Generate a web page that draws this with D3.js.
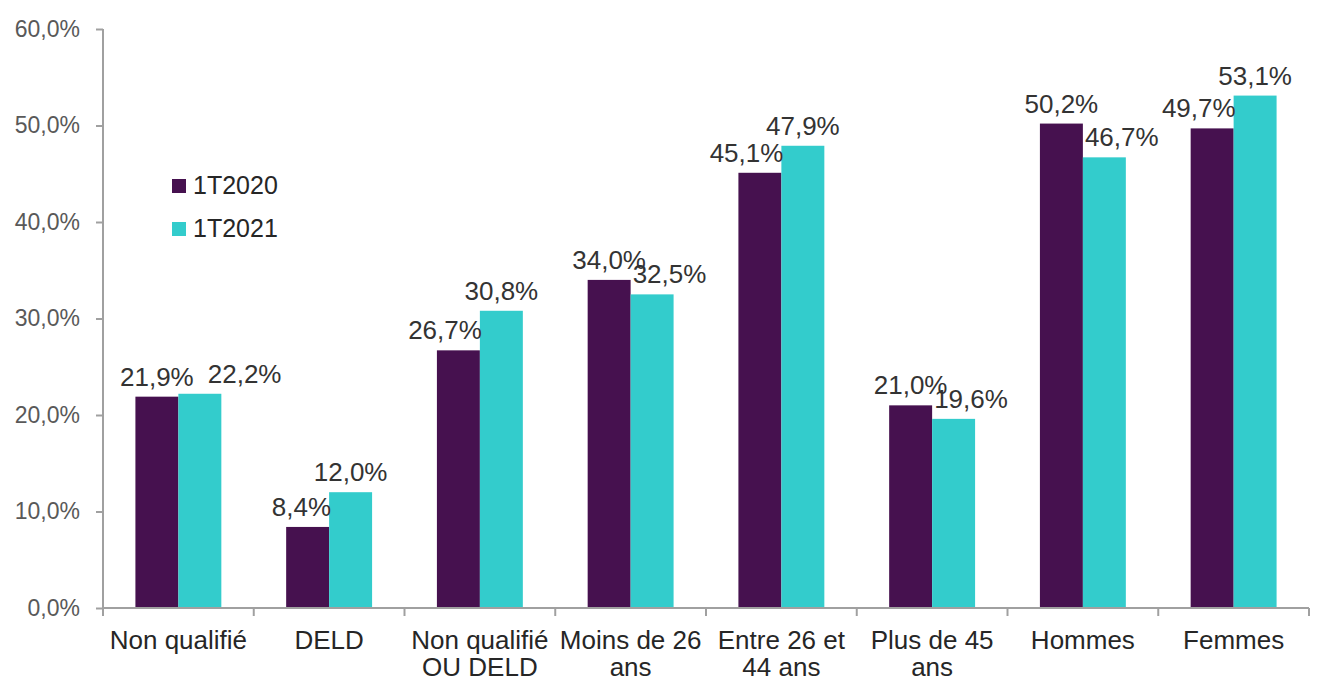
<!DOCTYPE html>
<html>
<head>
<meta charset="utf-8">
<title>1T2020 vs 1T2021</title>
<script src="https://cdnjs.cloudflare.com/ajax/libs/d3/7.8.5/d3.min.js"></script>
<style>
  body { margin: 0; background: #fff; }
  text { font-family: "Liberation Sans", Arial, sans-serif; }
  .axis path, .axis line { stroke: #a0a0a0; stroke-width: 2px; }
  .axis.y text { fill: #595959; font-size: 23px; }
  .cat { fill: #262626; font-size: 26px; }
  .lbl { fill: #333; font-size: 26px; }
  .legend text { fill: #262626; font-size: 25px; }
</style>
</head>
<body>
<svg id="chart" width="1321" height="682"></svg>
<script>
var categories = ['Non qualifié', 'DELD', 'Non qualifié OU DELD', 'Moins de 26 ans',
                  'Entre 26 et 44 ans', 'Plus de 45 ans', 'Hommes', 'Femmes'];
var seriesNames = ['1T2020', '1T2021'];
var values2020 = [21.9, 8.4, 26.7, 34.0, 45.1, 21.0, 50.2, 49.7];
var values2021 = [22.2, 12.0, 30.8, 32.5, 47.9, 19.6, 46.7, 53.1];
var yTicks = [0, 10, 20, 30, 40, 50, 60];
var colors = ['#46114f', '#33cccc'];

var svg = d3.select('#chart');
var plot = {left: 103, right: 1309, top: 29, bottom: 608};

var fr = d3.formatLocale({decimal: ',', thousands: ' ', grouping: [3], currency: ['', '€']});
var pct = function(v){ return fr.format('.1f')(v) + '%'; };

var x0 = d3.scaleBand().domain(categories).range([plot.left, plot.right]).paddingInner(0.43).paddingOuter(0.215);
var x1 = d3.scaleBand().domain(seriesNames).range([0, x0.bandwidth()]);
var y = d3.scaleLinear().domain([0, 60]).range([plot.bottom, plot.top]);
var color = d3.scaleOrdinal().domain(seriesNames).range(colors);

var rows = categories.map(function(c, i){
  return {cat: c, vals: [{s: seriesNames[0], v: values2020[i]}, {s: seriesNames[1], v: values2021[i]}]};
});

// y axis
var yAxis = svg.append('g').attr('class', 'axis y')
  .attr('transform', 'translate(' + plot.left + ',0)')
  .call(d3.axisLeft(y).tickValues(yTicks).tickSize(7).tickSizeOuter(0).tickPadding(16)
        .tickFormat(function(d){ return pct(d); }));
yAxis.select('.domain').remove();
svg.append('line').attr('x1', plot.left).attr('x2', plot.left).attr('y1', plot.top).attr('y2', plot.bottom)
   .attr('stroke', '#a0a0a0').attr('stroke-width', 2);

// bars
var groups = svg.selectAll('.grp').data(rows).enter().append('g')
  .attr('transform', function(d){ return 'translate(' + x0(d.cat) + ',0)'; });
groups.selectAll('rect').data(function(d){ return d.vals; }).enter().append('rect')
  .attr('x', function(d){ return x1(d.s); })
  .attr('y', function(d){ return y(d.v); })
  .attr('width', x1.bandwidth())
  .attr('height', function(d){ return plot.bottom - y(d.v); })
  .attr('fill', function(d){ return color(d.s); });

// x axis (ticks between categories)
var step = x0.step();
svg.append('line').attr('x1', plot.left).attr('x2', plot.right).attr('y1', plot.bottom).attr('y2', plot.bottom)
   .attr('stroke', '#a0a0a0').attr('stroke-width', 2);
svg.selectAll('.xtick').data(d3.range(categories.length + 1)).enter().append('line')
   .attr('x1', function(i){ return plot.left + i * step; })
   .attr('x2', function(i){ return plot.left + i * step; })
   .attr('y1', plot.bottom).attr('y2', plot.bottom + 8)
   .attr('stroke', '#a0a0a0').attr('stroke-width', 2);

// category labels, wrapped
var cats = svg.selectAll('.cat').data(categories).enter().append('text')
  .attr('class', 'cat').attr('text-anchor', 'middle')
  .attr('x', function(d){ return x0(d) + x0.bandwidth() / 2; })
  .attr('y', 649);
cats.each(function(d){
  var el = d3.select(this), x = el.attr('x');
  var words = d.split(' '), line = [];
  var ts = el.append('tspan').attr('x', x).attr('dy', 0);
  words.forEach(function(w){
    line.push(w);
    ts.text(line.join(' '));
    if (ts.node().getComputedTextLength() > 150 && line.length > 1) {
      line.pop();
      ts.text(line.join(' '));
      line = [w];
      ts = el.append('tspan').attr('x', x).attr('dy', 27).text(w);
    }
  });
});

// value labels: centred on the bar unless it would sit on the neighbour bar
rows.forEach(function(r){
  var gx = x0(r.cat), mid = gx + x0.bandwidth() / 2;
  var a = r.vals[0], b = r.vals[1];
  var ya = y(a.v) - 11, yb = y(b.v) - 11;

  var la = svg.append('text').attr('class', 'lbl').attr('y', ya).text(pct(a.v));
  if (ya > y(b.v)) la.attr('text-anchor', 'end').attr('x', mid + 2);
  else la.attr('text-anchor', 'middle').attr('x', gx + x1(a.s) + x1.bandwidth() / 2);

  var lb = svg.append('text').attr('class', 'lbl').attr('y', yb).text(pct(b.v));
  if (yb > y(a.v)) lb.attr('text-anchor', 'start').attr('x', mid + 2);
  else lb.attr('text-anchor', 'middle').attr('x', gx + x1(b.s) + x1.bandwidth() / 2);

  // push the second label aside if the two are on the same line
  var ba = la.node().getBBox(), bb = lb.node().getBBox();
  if (Math.abs(ya - yb) < 10 && bb.x < ba.x + ba.width + 4) {
    lb.attr('text-anchor', 'start').attr('x', ba.x + ba.width + 14);
  }
});

// legend
var legend = svg.append('g').attr('class', 'legend').attr('transform', 'translate(172,179)');
var li = legend.selectAll('g').data(seriesNames).enter().append('g')
  .attr('transform', function(d, i){ return 'translate(0,' + (i * 43) + ')'; });
li.append('rect').attr('width', 14).attr('height', 14).attr('fill', function(d){ return color(d); });
li.append('text').attr('x', 21).attr('y', 15).text(function(d){ return d; });
</script>
</body>
</html>
